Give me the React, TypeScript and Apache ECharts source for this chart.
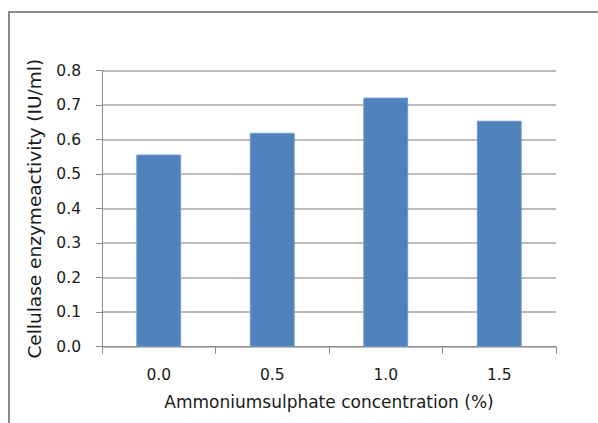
import React, { useEffect, useRef } from "react";
import * as echarts from "echarts";

const categories = ["0.0", "0.5", "1.0", "1.5"];
const activity = [0.557, 0.62, 0.722, 0.655];
const yTicks = { min: 0, max: 0.8, interval: 0.1 };

const FONT = "'DejaVu Sans', sans-serif";

export default function App() {
  const ref = useRef<HTMLDivElement>(null);
  useEffect(() => {
    if (!ref.current) return;
    const chart = echarts.init(ref.current, undefined, { renderer: "svg" });
    chart.setOption({
      animation: false,
      backgroundColor: "#ffffff",
      textStyle: { fontFamily: FONT },
      graphic: [
        {
          type: "rect",
          shape: { x: 9, y: 12, width: 600, height: 420 },
          style: { fill: "none", stroke: "#8c8c8c", lineWidth: 2 },
          silent: true,
        },
      ],
      grid: { left: 102, right: 42, top: 70.7, bottom: 76.3, containLabel: false },
      xAxis: {
        type: "category",
        data: categories,
        name: "Ammoniumsulphate concentration (%)",
        nameLocation: "middle",
        nameGap: 47,
        nameTextStyle: { fontSize: 17, color: "#1a1a1a", fontFamily: FONT },
        axisLine: { lineStyle: { color: "#8c8c8c", width: 1 } },
        axisTick: { show: true, length: 7, lineStyle: { color: "#8c8c8c" } },
        axisLabel: { fontSize: 15.5, color: "#1a1a1a", margin: 20, fontFamily: FONT },
      },
      yAxis: {
        type: "value",
        min: yTicks.min,
        max: yTicks.max,
        interval: yTicks.interval,
        name: "Cellulase enzymeactivity (IU/ml)",
        nameLocation: "middle",
        nameGap: 58,
        nameRotate: 90,
        nameTextStyle: { fontSize: 18.5, color: "#1a1a1a", fontFamily: FONT },
        axisLine: { show: true, lineStyle: { color: "#8c8c8c", width: 1 } },
        axisTick: { show: true, length: 6, lineStyle: { color: "#8c8c8c" } },
        axisLabel: {
          fontSize: 15.5,
          color: "#1a1a1a",
          margin: 21,
          fontFamily: FONT,
          formatter: (v: number) => v.toFixed(1),
        },
        splitLine: { show: true, lineStyle: { color: "#a6a6a6", width: 1.5 } },
      },
      series: [
        {
          type: "bar",
          data: activity,
          barWidth: "39.5%",
          itemStyle: { color: "#4f81bd", borderColor: "#6f98cc", borderWidth: 1 },
        },
      ],
    });
    return () => chart.dispose();
  }, []);
  return (
    <div
      ref={ref}
      style={{ position: "absolute", left: 0, top: 0, width: 598, height: 423 }}
    />
  );
}
